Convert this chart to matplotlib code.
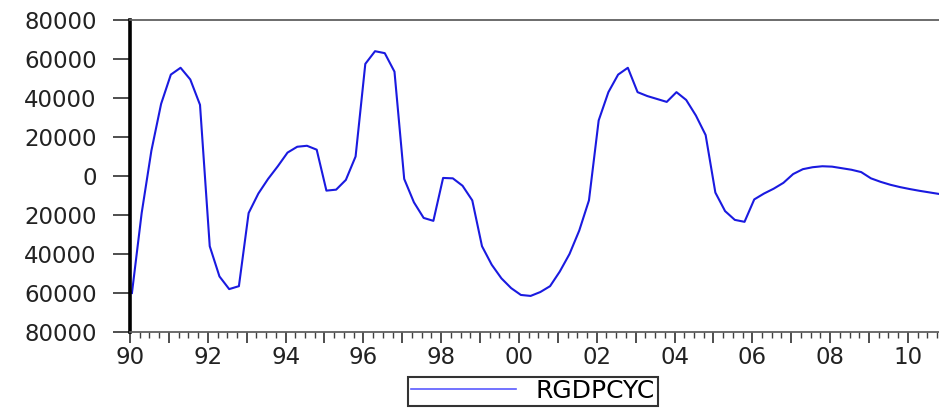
"""RGDPCYC quarterly cycle, EViews-style line chart."""

import matplotlib

matplotlib.use("Agg")
import matplotlib.pyplot as plt
import numpy as np
from matplotlib.lines import Line2D
from matplotlib.ticker import FixedLocator, FuncFormatter

SERIES_NAME = "RGDPCYC"
START_YEAR = 1990

# quarterly values, 1990Q1 .. 2010Q4
RGDPCYC = [
    -60000, -19000, 13000, 37000,
    52000, 55500, 49500, 36500,
    -36000, -51500, -58000, -56500,
    -19000, -9000, -1500, 5000,
    12000, 15000, 15500, 13500,
    -7500, -7000, -2000, 10000,
    57500, 64000, 63000, 53500,
    -1500, -13500, -21500, -23000,
    -1000, -1200, -5000, -12500,
    -36000, -45500, -52500, -57500,
    -61000, -61500, -59500, -56500,
    -49000, -40000, -28000, -12500,
    28500, 43000, 52000, 55500,
    43000, 41000, 39500, 38000,
    43000, 39000, 31000, 21000,
    -8500, -18000, -22500, -23500,
    -12000, -9000, -6500, -3500,
    1000, 3500, 4500, 5000,
    4800, 4000, 3200, 2000,
    -1200, -3000, -4500, -5700,
    -6700, -7600, -8400, -9200,
]

Y_TICKS = list(range(-80000, 80001, 20000))
YEAR_TICKS = list(range(1990, 2011))


def main() -> None:
    # small shift so each quarter sits a bit past its tick, as in the source
    t = START_YEAR + np.arange(len(RGDPCYC)) / 4.0 + 0.05

    fig = plt.figure(figsize=(9.39, 4.08), dpi=100)
    fig.patch.set_facecolor("white")
    ax = fig.add_axes([130 / 939, 76 / 408, 809 / 939, 312 / 408])

    ax.plot(t, RGDPCYC, color="#1a1ae0", lw=1.5)

    ax.set_xlim(1990, 2010.8)
    ax.set_ylim(-80000, 80000)

    ax.spines["right"].set_visible(False)
    ax.spines["left"].set_linewidth(2.6)
    ax.spines["left"].set_color("black")
    for side in ("top", "bottom"):
        ax.spines[side].set_linewidth(1.3)
        ax.spines[side].set_color("#606060")

    ax.set_yticks(Y_TICKS)
    ax.yaxis.set_major_formatter(FuncFormatter(lambda v, _: f"{abs(int(v))}"))
    ax.tick_params(axis="y", direction="out", length=12, width=1.3,
                   color="#404040", pad=12, labelsize=16.5, labelcolor="#222222")

    ax.xaxis.set_major_locator(FixedLocator(YEAR_TICKS))
    ax.xaxis.set_minor_locator(FixedLocator([START_YEAR + q / 4.0 for q in range(84)]))
    ax.xaxis.set_major_formatter(
        FuncFormatter(lambda v, _: f"{int(round(v)) % 100:02d}" if int(round(v)) % 2 == 0 else "")
    )
    ax.tick_params(axis="x", which="major", direction="out", length=8, width=1.3,
                   color="#404040", pad=2, labelsize=16.5, labelcolor="#222222")
    ax.tick_params(axis="x", which="minor", direction="out", length=4, width=1.0,
                   color="#404040")

    handle = Line2D([], [], color="#5a5aff", lw=1.2)
    leg = fig.legend([handle], [SERIES_NAME], loc="center",
                     bbox_to_anchor=(533 / 939, 1 - 391 / 408),
                     frameon=True, fancybox=False, fontsize=18,
                     handlelength=4.2, borderpad=0.1, handletextpad=0.8)
    leg.get_frame().set_edgecolor("black")
    leg.get_frame().set_linewidth(1.5)

    fig.savefig("out.png", dpi=100, facecolor="white")
    plt.close(fig)


if __name__ == "__main__":
    main()
